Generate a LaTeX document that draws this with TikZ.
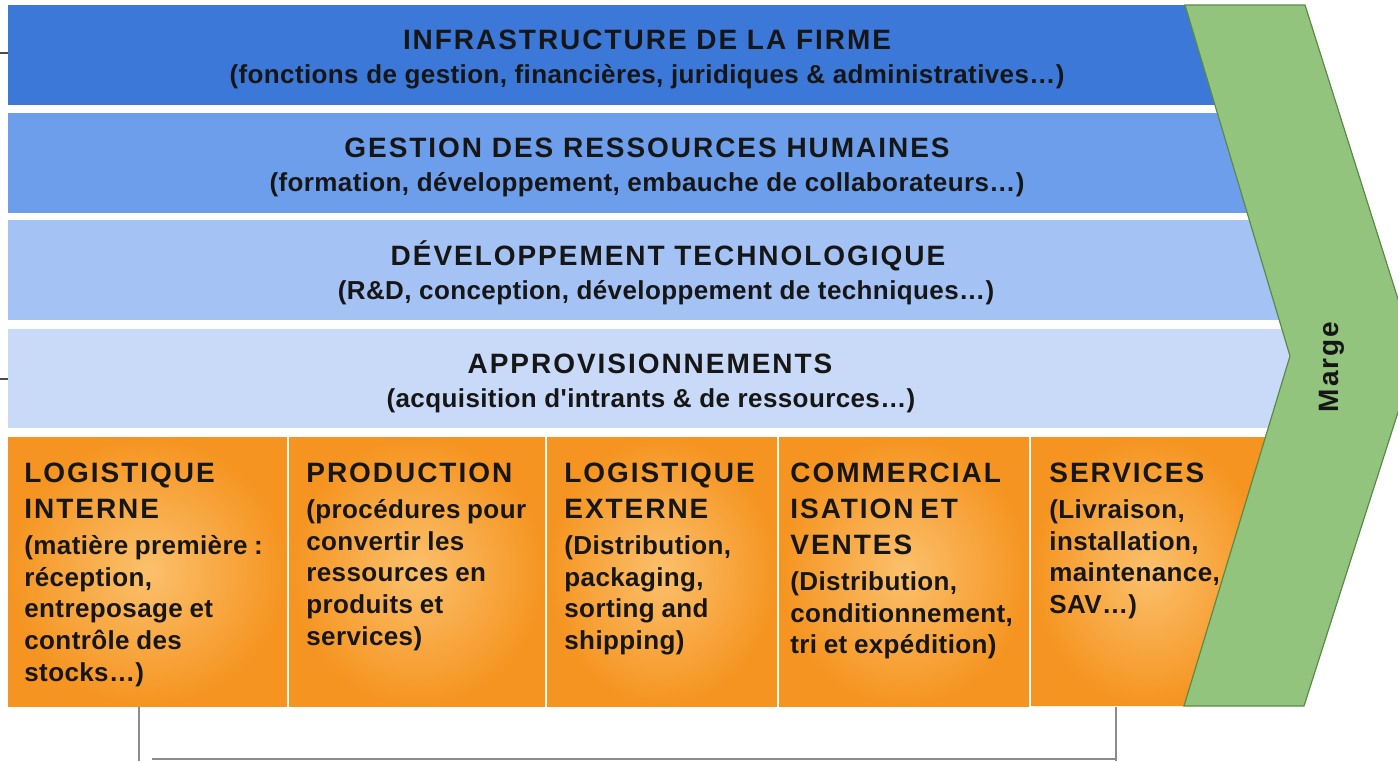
\documentclass[tikz,border=0pt]{standalone}
\usepackage{fontspec}
\setmainfont{Liberation Sans}
\newfontfamily\ttlfam[LetterSpace=7]{Liberation Sans}
\newfontfamily\subfam[LetterSpace=1.5]{Liberation Sans}
\newcommand\ttlfont{\ttlfam\bfseries\fontsize{14}{18}\selectfont}
\newcommand\subfont{\subfam\bfseries\fontsize{13}{15.8}\selectfont}
\usetikzlibrary{shadings}

\definecolor{bandA}{HTML}{3C78D8}
\definecolor{bandB}{HTML}{6D9EEB}
\definecolor{bandC}{HTML}{A4C2F4}
\definecolor{bandD}{HTML}{C9DAF8}
\definecolor{margefill}{HTML}{93C47D}
\definecolor{margeline}{HTML}{5B8A47}
\definecolor{orgout}{HTML}{F59420}
\definecolor{orgin}{HTML}{FBC06C}
\definecolor{ink}{HTML}{161616}
\definecolor{bracket}{HTML}{8C8C8C}

\tikzset{
  primary/.style={shading=radial, inner color=orgin, outer color=orgout},
  bandtitle/.style={anchor=base, inner sep=0pt, text=ink, font=\ttlfont},
  bandsub/.style={anchor=base, inner sep=0pt, text=ink, font=\subfont},
  coltext/.style={anchor=base west, inner sep=0pt, text=ink, align=left, text width=150pt},
  bracketline/.style={draw=bracket, line width=1pt},
  tick/.style={draw=black!70, line width=0.6pt}
}

\begin{document}
\begin{tikzpicture}[x=0.5pt, y=-0.5pt]
\useasboundingbox (0,0) rectangle (1398,761);
\clip (0,0) rectangle (1398,761);

% support activities
\fill[bandA] (8,5)   rectangle (1300,105);
\fill[bandB] (8,113) rectangle (1300,213);
\fill[bandC] (8,220) rectangle (1300,320);
\fill[bandD] (8,329) rectangle (1300,428);

% primary activities
\shade[primary] (8,437)   rectangle (287,706);
\shade[primary] (289,437) rectangle (545,706);
\shade[primary] (547,437) rectangle (777,706);
\shade[primary] (779,437) rectangle (1029,706);
\shade[primary] (1031,437) -- (1266,437) -- (1184,706) -- (1031,706) -- cycle;

% margin chevron
\filldraw[fill=margefill, draw=margeline, line width=0.6pt]
  (1185,5) -- (1305,5) -- (1416,356) -- (1304,706) -- (1184,706) -- (1290,356) -- cycle;
\node[rotate=90, inner sep=0pt, text=ink, font=\ttlfont] (marge) at (1332,367) {Marge};

% support activity labels
\node[bandtitle] (infra)  at (647,49)  {INFRASTRUCTURE DE LA FIRME};
\node[bandsub]   (infraS) at (647,83)  {(fonctions de gestion, financières, juridiques \& administratives…)};
\node[bandtitle] (grh)    at (647,157) {GESTION DES RESSOURCES HUMAINES};
\node[bandsub]   (grhS)   at (647,191) {(formation, développement, embauche de collaborateurs…)};
\node[bandtitle] (tech)   at (668,265) {DÉVELOPPEMENT TECHNOLOGIQUE};
\node[bandsub]   (techS)  at (666,299) {(R\&D, conception, développement de techniques…)};
\node[bandtitle] (appro)  at (650,373) {APPROVISIONNEMENTS};
\node[bandsub]   (approS) at (651,407) {(acquisition d'intrants \& de ressources…)};

% primary activity labels
\node[coltext] (login) at (24,482) {\ttlfont LOGISTIQUE\\INTERNE\par\vspace{2.5pt}%
  \subfont (matière première :\\réception,\\entreposage et\\contrôle des\\stocks…)\par};
\node[coltext] (prod) at (306,482) {\ttlfont PRODUCTION\par\vspace{2.5pt}%
  \subfont (procédures pour\\convertir les\\ressources en\\produits et\\services)\par};
\node[coltext] (logex) at (564,482) {\ttlfont LOGISTIQUE\\EXTERNE\par\vspace{2.5pt}%
  \subfont (Distribution,\\packaging,\\sorting and\\shipping)\par};
\node[coltext] (comm) at (790,482) {\ttlfont COMMERCIAL\\ISATION ET\\VENTES\par\vspace{2.5pt}%
  \subfont (Distribution,\\conditionnement,\\tri et expédition)\par};
\node[coltext] (serv) at (1049,482) {\ttlfont SERVICES\par\vspace{2.5pt}%
  \subfont (Livraison,\\installation,\\maintenance,\\SAV…)\par};

% bracket under the primary activities
\coordinate (bl1) at (139,707);
\coordinate (bl2) at (139,761);
\coordinate (bh1) at (152,759);
\coordinate (bh2) at (1116,759);
\coordinate (br1) at (1116,707);
\coordinate (br2) at (1116,761);
\draw[bracketline] (bl1) -- (bl2);
\draw[bracketline] (bh1) -- (bh2);
\draw[bracketline] (br1) -- (br2);

% left margin ticks
\coordinate (t1a) at (0,53);  \coordinate (t1b) at (8,53);
\coordinate (t2a) at (0,379); \coordinate (t2b) at (8,379);
\draw[tick] (t1a) -- (t1b);
\draw[tick] (t2a) -- (t2b);
\end{tikzpicture}
\end{document}
